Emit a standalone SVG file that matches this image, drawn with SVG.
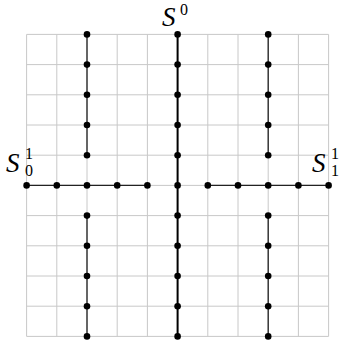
<svg xmlns="http://www.w3.org/2000/svg" width="339" height="344" viewBox="0 0 339 344">
<style>
.grid{stroke:#c8c8c8;stroke-width:1;fill:none}
.edge{stroke:#222;stroke-width:1.3;fill:none}
.main{stroke:#000;stroke-width:2;fill:none}
.dot{fill:#000}
.lbl{font-family:"Liberation Serif","DejaVu Serif",serif;font-style:italic;font-size:27px;fill:#000}
.idx{font-family:"Liberation Serif","DejaVu Serif",serif;font-size:16px;fill:#000}
</style>
<rect width="339" height="344" fill="#fff"/>
<g id="grid">
<path class="grid" d="M26.6 34.4V336.4M56.8 34.4V336.4M87 34.4V336.4M117.2 34.4V336.4M147.4 34.4V336.4M177.6 34.4V336.4M207.8 34.4V336.4M238 34.4V336.4M268.2 34.4V336.4M298.4 34.4V336.4M328.6 34.4V336.4M26.6 34.4H328.6M26.6 64.6H328.6M26.6 94.8H328.6M26.6 125H328.6M26.6 155.2H328.6M26.6 185.4H328.6M26.6 215.6H328.6M26.6 245.8H328.6M26.6 276H328.6M26.6 306.2H328.6M26.6 336.4H328.6"/>
</g>
<g id="connectors">
<path class="edge" d="M87 34.4V155.2M87 215.6V336.4M268.2 34.4V155.2M268.2 215.6V336.4M26.6 185.4H147.4M207.8 185.4H328.6"/>
<path class="main" d="M177.6 34.4V336.4"/>
</g>
<g id="node-col2">
<circle class="dot" cx="87" cy="34.4" r="3.3"/><circle class="dot" cx="87" cy="64.6" r="3.3"/><circle class="dot" cx="87" cy="94.8" r="3.3"/><circle class="dot" cx="87" cy="125" r="3.3"/><circle class="dot" cx="87" cy="155.2" r="3.3"/>
<circle class="dot" cx="87" cy="215.6" r="3.3"/><circle class="dot" cx="87" cy="245.8" r="3.3"/><circle class="dot" cx="87" cy="276" r="3.3"/><circle class="dot" cx="87" cy="306.2" r="3.3"/><circle class="dot" cx="87" cy="336.4" r="3.3"/>
</g>
<g id="node-col8">
<circle class="dot" cx="268.2" cy="34.4" r="3.3"/><circle class="dot" cx="268.2" cy="64.6" r="3.3"/><circle class="dot" cx="268.2" cy="94.8" r="3.3"/><circle class="dot" cx="268.2" cy="125" r="3.3"/><circle class="dot" cx="268.2" cy="155.2" r="3.3"/>
<circle class="dot" cx="268.2" cy="215.6" r="3.3"/><circle class="dot" cx="268.2" cy="245.8" r="3.3"/><circle class="dot" cx="268.2" cy="276" r="3.3"/><circle class="dot" cx="268.2" cy="306.2" r="3.3"/><circle class="dot" cx="268.2" cy="336.4" r="3.3"/>
</g>
<g id="node-center">
<circle class="dot" cx="177.6" cy="34.4" r="3.3"/><circle class="dot" cx="177.6" cy="64.6" r="3.3"/><circle class="dot" cx="177.6" cy="94.8" r="3.3"/><circle class="dot" cx="177.6" cy="125" r="3.3"/><circle class="dot" cx="177.6" cy="155.2" r="3.3"/><circle class="dot" cx="177.6" cy="185.4" r="3.3"/>
<circle class="dot" cx="177.6" cy="215.6" r="3.3"/><circle class="dot" cx="177.6" cy="245.8" r="3.3"/><circle class="dot" cx="177.6" cy="276" r="3.3"/><circle class="dot" cx="177.6" cy="306.2" r="3.3"/><circle class="dot" cx="177.6" cy="336.4" r="3.3"/>
</g>
<g id="node-row-left">
<circle class="dot" cx="26.6" cy="185.4" r="3.3"/><circle class="dot" cx="56.8" cy="185.4" r="3.3"/><circle class="dot" cx="87" cy="185.4" r="3.3"/><circle class="dot" cx="117.2" cy="185.4" r="3.3"/><circle class="dot" cx="147.4" cy="185.4" r="3.3"/>
</g>
<g id="node-row-right">
<circle class="dot" cx="207.8" cy="185.4" r="3.3"/><circle class="dot" cx="238" cy="185.4" r="3.3"/><circle class="dot" cx="268.2" cy="185.4" r="3.3"/><circle class="dot" cx="298.4" cy="185.4" r="3.3"/><circle class="dot" cx="328.6" cy="185.4" r="3.3"/>
</g>
<g id="label-S0">
<text class="lbl" x="162" y="25.5">S</text><text class="idx" x="180" y="15">0</text>
</g>
<g id="label-S01">
<text class="lbl" x="6" y="172">S</text><text class="idx" x="25" y="158.5">1</text><text class="idx" x="25" y="176">0</text>
</g>
<g id="label-S11">
<text class="lbl" x="312" y="172">S</text><text class="idx" x="331" y="158.5">1</text><text class="idx" x="331" y="176">1</text>
</g>
</svg>
